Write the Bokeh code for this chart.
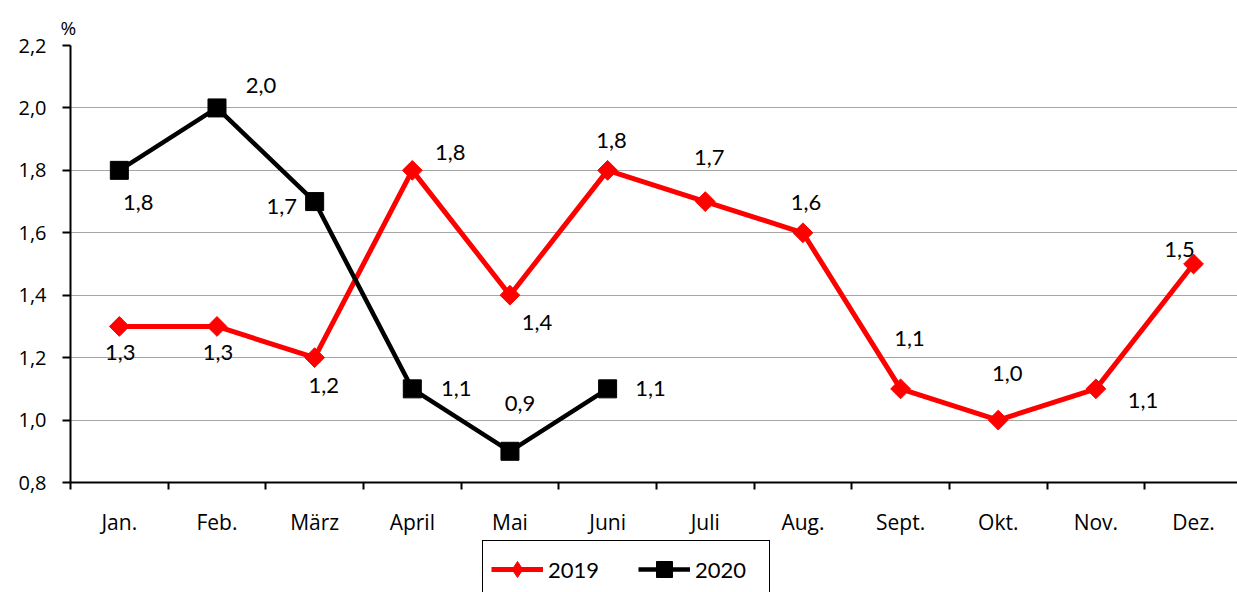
import math
from bokeh.plotting import figure
from bokeh.layouts import column
from bokeh.models import (FixedTicker, Legend, LegendItem, ColumnDataSource, Range1d)
from bokeh.embed import file_html
from bokeh.resources import INLINE
from bokeh.core.properties import value

months = ["Jan.", "Feb.", "März", "April", "Mai", "Juni", "Juli", "Aug.", "Sept.", "Okt.", "Nov.", "Dez."]
v2019 = [1.3, 1.3, 1.2, 1.8, 1.4, 1.8, 1.7, 1.6, 1.1, 1.0, 1.1, 1.5]
v2020 = [1.8, 2.0, 1.7, 1.1, 0.9, 1.1]
y_ticks = [0.8, 1.0, 1.2, 1.4, 1.6, 1.8, 2.0, 2.2]
series_names = ["2019", "2020"]

# label offsets in screen pixels (style)
dx2019 = [1, 1, 9, 38, 27, 4, 4, 3, 9, 9, 47, -14]
dy2019 = [26, 26, 28, -18, 27, -30, -44, -30, -50, -47, 12, -15]
dx2020 = [19, 44, -33, 44, 10, 43]
dy2020 = [32, -22, 5, 0, -48, 0]

FONT = "Open Sans"
LFONT = "Lato"
RED = "#ff0000"

def fmt(v):
    return f"{v:.1f}".replace(".", ",")

x19 = list(range(len(v2019)))
x20 = list(range(len(v2020)))

p = figure(width=1237, height=540, output_backend="svg", toolbar_location=None,
           x_range=Range1d(-0.5, 11.45), y_range=Range1d(0.8, 2.2),
           min_border_left=70, min_border_top=45, min_border_right=0, min_border_bottom=58)
p.outline_line_color = None
p.background_fill_color = "white"

p.title.text = "%"
p.title.align = "left"
p.title.offset = -10
p.title.text_font = FONT
p.title.text_font_size = "19px"
p.title.text_font_style = "normal"
p.title.text_color = "black"

# axes
p.xaxis.ticker = FixedTicker(ticks=x19, minor_ticks=[i - 0.5 for i in range(13)])
p.xaxis.major_label_overrides = {i: m for i, m in enumerate(months)}
p.xaxis.major_tick_out = 0
p.xaxis.major_tick_in = 0
p.xaxis.minor_tick_out = 7
p.xaxis.minor_tick_in = 0
p.xaxis.minor_tick_line_width = 2
p.xaxis.minor_tick_line_color = "black"
p.xaxis.axis_line_width = 2
p.xaxis.axis_line_color = "black"
p.xaxis.major_label_text_font = FONT
p.xaxis.major_label_text_font_size = "21px"
p.xaxis.major_label_text_color = "black"
p.xaxis.major_label_standoff = 18

p.yaxis.ticker = FixedTicker(ticks=y_ticks)
p.yaxis.major_label_overrides = {t: fmt(t) for t in y_ticks}
p.yaxis.major_tick_out = 8
p.yaxis.major_tick_in = 0
p.yaxis.major_tick_line_width = 2
p.yaxis.minor_tick_out = 0
p.yaxis.minor_tick_in = 0
p.yaxis.axis_line_width = 2
p.yaxis.axis_line_color = "black"
p.yaxis.major_label_text_font = FONT
p.yaxis.major_label_text_font_size = "20px"
p.yaxis.major_label_text_color = "black"
p.yaxis.major_label_standoff = 16

p.xgrid.visible = False
p.ygrid.ticker = FixedTicker(ticks=y_ticks)
p.ygrid.grid_line_color = "#a6a6a6"
p.ygrid.grid_line_width = 1

# series
src19 = ColumnDataSource(dict(x=x19, y=v2019, t=[fmt(v) for v in v2019], dx=dx2019, dy=dy2019))
src20 = ColumnDataSource(dict(x=x20, y=v2020, t=[fmt(v) for v in v2020], dx=dx2020, dy=dy2020))

line19 = dict(line_color=RED, line_width=5)
mark19 = dict(marker="square", angle=math.pi / 4, size=14, fill_color=RED, line_color=RED, line_width=1)
line20 = dict(line_color="black", line_width=4.5)
mark20 = dict(marker="square", size=18, fill_color="black", line_color="black", line_width=1)

p.line("x", "y", source=src19, **line19)
p.scatter("x", "y", source=src19, **mark19)
p.line("x", "y", source=src20, **line20)
p.scatter("x", "y", source=src20, **mark20)

for src in (src19, src20):
    p.text("x", "y", text="t", source=src, x_offset="dx", y_offset="dy",
           text_font=value(LFONT), text_font_size="22px", text_color="black",
           text_align="center", text_baseline="middle")

# legend strip below the chart (its ranges keep the series out of view)
p2 = figure(width=1237, height=52, output_backend="svg", toolbar_location=None,
            x_range=Range1d(100, 101), y_range=Range1d(100, 101),
            x_axis_location=None, y_axis_location=None,
            min_border_left=0, min_border_right=0, min_border_top=0, min_border_bottom=0)
p2.grid.visible = False
p2.outline_line_color = None
gl19 = p2.line("x", "y", source=src19, **line19)
gm19 = p2.scatter("x", "y", source=src19, marker="diamond", size=14,
                  fill_color=RED, line_color=RED, line_width=1)
gl20 = p2.line("x", "y", source=src20, **line20)
gm20 = p2.scatter("x", "y", source=src20, **mark20)

legend = Legend(items=[LegendItem(label=series_names[0], renderers=[gl19, gm19]),
                       LegendItem(label=series_names[1], renderers=[gl20, gm20])],
                orientation="horizontal", location=(412, -6),
                border_line_color="black", border_line_width=1.5, border_line_alpha=1,
                label_text_font=LFONT, label_text_font_size="22px", label_text_color="black",
                glyph_width=52, glyph_height=40, spacing=24, padding=8,
                label_standoff=5, label_width=66, margin=0)
p2.add_layout(legend)

layout = column(p, p2, spacing=0)
open("out.html", "w").write(file_html(layout, INLINE))
